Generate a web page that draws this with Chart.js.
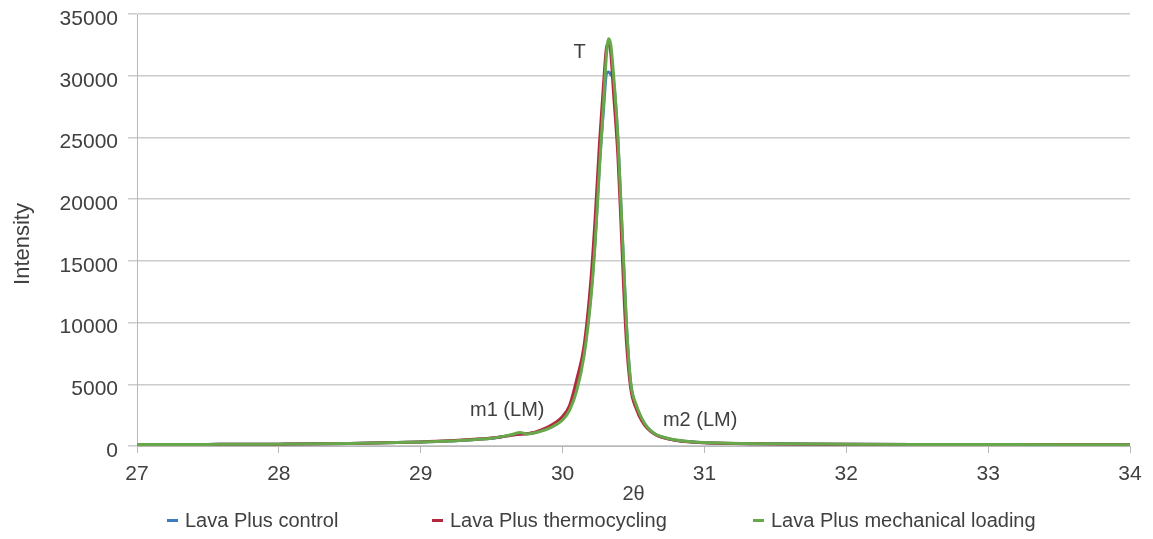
<!DOCTYPE html>
<html>
<head>
<meta charset="utf-8">
<script src="https://cdn.jsdelivr.net/npm/chart.js@4/dist/chart.umd.min.js"></script>
<style>
  html, body { margin: 0; padding: 0; background: #fff; }
  #wrap { position: relative; width: 1153px; height: 539px; }
  #legend { position: absolute; top: 509px; left: 0; width: 1153px; height: 26px;
    font-family: "Liberation Sans", Arial, sans-serif; font-size: 20px; color: #404040; }
  .item { position: absolute; top: 0; white-space: nowrap; }
  .mark { display: inline-block; width: 11px; height: 3px; margin-right: 7px; vertical-align: middle; position: relative; top: -1px; }
</style>
</head>
<body>
<div id="wrap">
  <canvas id="xrdChart" width="1153" height="539"></canvas>
  <div id="legend"></div>
</div>
<script>
// 2θ positions shared by all three scans
const twoTheta = [27.0, 27.5, 28.0, 28.5, 29.0, 29.2, 29.4, 29.5, 29.6, 29.65, 29.7, 29.75, 29.8, 29.85, 29.9, 29.95,
  30.0, 30.05, 30.1, 30.15, 30.2, 30.23, 30.26, 30.29, 30.31, 30.325, 30.34, 30.36, 30.39, 30.41, 30.43, 30.45,
  30.48, 30.52, 30.56, 30.6, 30.65, 30.7, 30.8, 30.9, 31.0, 31.5, 32.0, 32.5, 33.0, 33.5, 34.0];

const controlValues = [120, 130, 150, 200, 320, 400, 540, 620, 800, 900, 980, 1000, 1080, 1250, 1450, 1750,
  2200, 3000, 4700, 7500, 12300, 16800, 22800, 27500, 30200, 30300, 30100, 29500, 24800, 19800, 14800, 9800,
  5100, 3200, 2150, 1450, 980, 730, 470, 340, 270, 175, 145, 125, 115, 105, 105];

const thermoValues = [120, 130, 150, 200, 330, 420, 560, 650, 800, 880, 950, 1000, 1100, 1300, 1550, 1900,
  2400, 3300, 5400, 8000, 13500, 18500, 24500, 29500, 32300, 32600, 31800, 28500, 23500, 18500, 13000, 8500,
  4700, 3000, 2000, 1400, 950, 700, 450, 330, 260, 170, 140, 120, 110, 100, 100];

const mechValues = [120, 130, 150, 200, 320, 400, 540, 620, 820, 950, 1100, 980, 1050, 1200, 1400, 1700,
  2100, 2900, 4500, 7200, 12000, 16500, 22500, 28000, 31800, 33000, 32500, 30000, 25000, 20000, 15000, 10000,
  5200, 3300, 2200, 1500, 1000, 750, 480, 350, 280, 180, 150, 130, 120, 110, 110];

const seriesNames = ["Lava Plus control", "Lava Plus thermocycling", "Lava Plus mechanical loading"];
const seriesColors = ["#3b7cbf", "#b3283e", "#69a84a"];

const yTicks = [0, 5000, 10000, 15000, 20000, 25000, 30000, 35000];
const xTicks = [27, 28, 29, 30, 31, 32, 33, 34];

// peak labels, placed in data units
const peakLabels = [
  { text: "T", x: 30.12, y: 31900 },
  { text: "m1 (LM)", x: 29.61, y: 2850 },
  { text: "m2 (LM)", x: 30.97, y: 2050 },
];

const FONT = "'Liberation Sans', Arial, sans-serif";
const textColor = "#404040";

const toPoints = (vals) => vals.map((v, i) => ({ x: twoTheta[i], y: v }));

const textPlugin = {
  id: "chartText",
  afterDatasetsDraw(chart) {
    const { ctx, scales } = chart;
    ctx.save();
    ctx.font = "20px " + FONT;
    ctx.fillStyle = textColor;
    ctx.textAlign = "center";
    ctx.textBaseline = "middle";
    peakLabels.forEach((l) => {
      ctx.fillText(l.text, scales.x.getPixelForValue(l.x), scales.y.getPixelForValue(l.y));
    });
    // y axis title, sits a bit below the middle like the original
    ctx.font = "22px " + FONT;
    ctx.translate(23, 244);
    ctx.rotate(-Math.PI / 2);
    ctx.fillText("Intensity", 0, 0);
    ctx.restore();
  },
};

const datasets = [controlValues, thermoValues, mechValues].map((vals, i) => ({
  label: seriesNames[i],
  data: toPoints(vals),
  borderColor: seriesColors[i],
  backgroundColor: seriesColors[i],
  borderWidth: 3,
  pointRadius: 0,
  cubicInterpolationMode: "monotone",
  order: 2 - i, // green on top
}));

const chart = new Chart(document.getElementById("xrdChart").getContext("2d"), {
  type: "line",
  data: { datasets: datasets },
  plugins: [textPlugin],
  options: {
    responsive: false,
    animation: false,
    layout: { padding: { top: 14, right: 23, left: 0, bottom: 33 } },
    plugins: {
      legend: { display: false },
      tooltip: { enabled: false },
    },
    scales: {
      x: {
        type: "linear",
        min: 27,
        max: 34,
        afterBuildTicks: (s) => { s.ticks = xTicks.map((v) => ({ value: v })); },
        afterFit: (s) => { s.height = 60; s.paddingLeft = 0; s.paddingRight = 0; },
        grid: { drawOnChartArea: false, drawTicks: true, tickLength: 7, color: "#b8b8b8", lineWidth: 1 },
        border: { color: "#b8b8b8", width: 1 },
        ticks: { color: textColor, font: { family: FONT, size: 21 }, padding: 9, maxRotation: 0 },
        title: { display: true, text: "2θ", color: textColor, font: { family: FONT, size: 20 }, padding: { top: 0, bottom: 0 } },
      },
      y: {
        min: 0,
        max: 35000,
        afterBuildTicks: (s) => { s.ticks = yTicks.map((v) => ({ value: v })); },
        afterFit: (s) => { s.width = 137; s.paddingTop = 0; s.paddingBottom = 0; },
        grid: { color: "#cccccc", lineWidth: 1.5, tickLength: 9 },
        border: { color: "#b8b8b8", width: 1 },
        ticks: { color: textColor, font: { family: FONT, size: 21 }, padding: 10, labelOffset: 5, callback: (v) => String(v) },
      },
    },
  },
});

// legend drawn as html so spacing matches the original
const legendLeft = [167, 432, 753];
const legendBox = document.getElementById("legend");
seriesNames.forEach((name, i) => {
  const item = document.createElement("div");
  item.className = "item";
  item.style.left = legendLeft[i] + "px";
  item.innerHTML = `<span class="mark" style="background:${seriesColors[i]}"></span>${name}`;
  legendBox.appendChild(item);
});
</script>
</body>
</html>
